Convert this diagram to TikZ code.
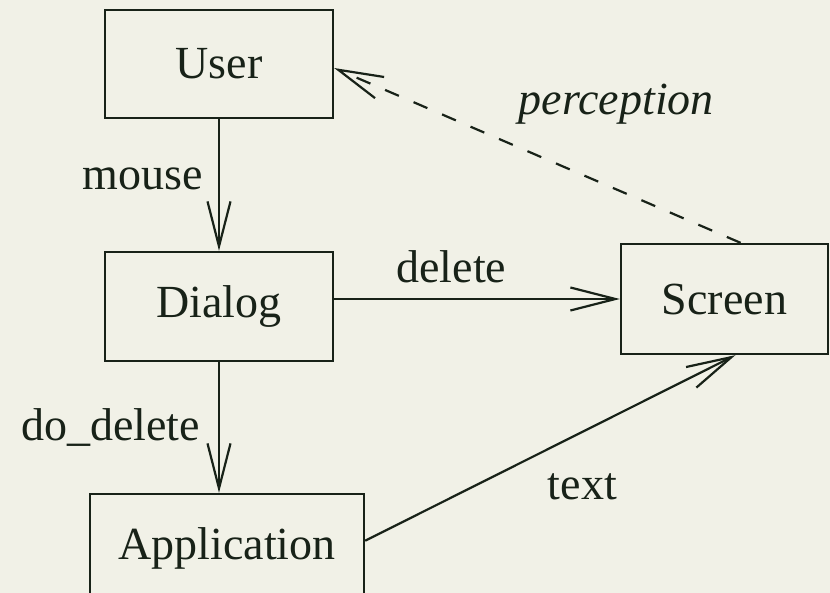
\documentclass[tikz,border=0pt]{standalone}
\usepackage{fontspec}
\setmainfont{Liberation Serif}
\usepackage{tikz}
\usetikzlibrary{arrows.meta, positioning, calc}
\definecolor{bgc}{HTML}{F1F1E7}
\definecolor{ink}{HTML}{182218}
\tikzstyle{blk}=[draw=ink, line width=1.15pt, shape=rectangle, text=ink, inner sep=0pt]
\tikzstyle{lbl}=[text=ink, inner sep=7.5pt]
\tikzstyle{conn}=[draw=ink, line width=1.1pt]
\tikzset{>={Straight Barb[length=22.5pt, width=11.5pt]}}

\begin{document}
\begin{tikzpicture}[x=0.5pt, y=-0.5pt, font=\fontsize{23}{28}\selectfont]
\useasboundingbox[fill=bgc] (0,0) rectangle (830,593);
\clip (0,0) rectangle (830,593);

\node[blk, minimum width=114pt, minimum height=54pt] (user) at (219,64) {User};
\node[blk, minimum width=114pt, minimum height=54.5pt] (dialog) at (219,306.5) {Dialog};
\node[blk, minimum width=103.5pt, minimum height=55pt] (screen) at (724.5,299) {Screen};
\node[blk, minimum width=137pt, minimum height=54pt] (app) at (227,548) {Application};

\draw[conn, ->] (user.south) -- node[lbl, left, pos=0.45] (mouselbl) {mouse} (dialog.north);
\draw[conn, ->] (dialog.south) -- node[lbl, left=1.5pt] (dodellbl) {do\_delete} (dialog.south |- app.north);
\draw[conn, ->] (dialog.east |- screen.west) -- node[lbl, above, pos=0.41] (dellbl) {delete} (screen.west);
\draw[conn, ->] (app.3) -- node[lbl, below right, pos=0.45] (textlbl) {text} (screen.-79);
\draw[conn, ->, dash pattern=on 7.5pt off 8pt] (screen.74) -- node[lbl, above right, pos=0.585, font=\fontsize{23}{28}\selectfont\itshape] (perclbl) {perception} (user.-2);

%\node[right = 2mm of screen] {};
\end{tikzpicture}
\end{document}
